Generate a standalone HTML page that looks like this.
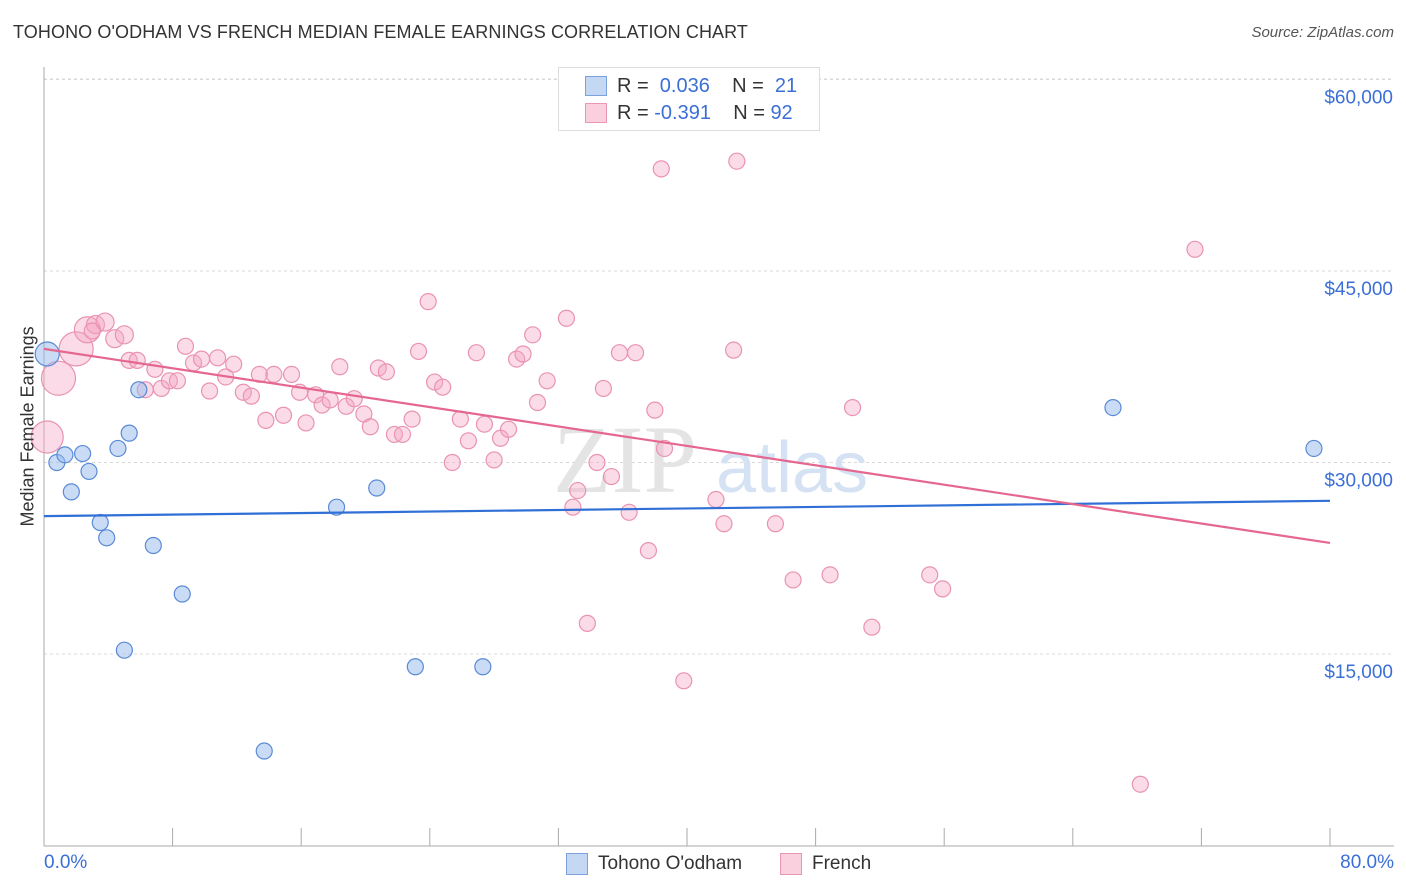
<!DOCTYPE html>
<html><head><meta charset="utf-8">
<style>
html,body{margin:0;padding:0;background:#fff;}
body{width:1406px;height:892px;overflow:hidden;font-family:"Liberation Sans",sans-serif;position:relative;}
.t{position:absolute;white-space:nowrap;}
</style></head>
<body>
<div class="t" style="left:13px;top:22px;font-size:18px;color:#333;letter-spacing:0.1px">TOHONO O'ODHAM VS FRENCH MEDIAN FEMALE EARNINGS CORRELATION CHART</div>
<div class="t" style="right:12px;top:24px;font-size:15px;color:#555;font-style:italic">Source: ZipAtlas.com</div>
<svg id="chart" width="1406" height="892" style="position:absolute;left:0;top:0"></svg>
<script>
const blueX=[0.2,0.8,1.3,2.4,1.7,2.8,3.5,3.9,4.6,5.3,5.9,6.8,8.6,5.0,13.7,18.2,20.7,23.1,27.3,66.5,79.0];
const blueY=[38500,30000,30600,30700,27700,29300,25300,24100,31100,32300,35700,23500,19700,15300,7400,26500,28000,14000,14000,34300,31100];
const blueR=[12,8,8,8,8,8,8,8,8,8,8,8,8,8,8,8,8,8,8,8,8];
const pinkX=[0.2,0.9,2.0,2.7,3.2,3.8,4.4,5.0,5.3,5.8,6.3,6.9,7.3,7.8,8.3,8.8,9.3,9.8,10.3,10.8,11.3,11.8,12.4,12.9,13.4,13.8,14.3,14.9,15.4,15.9,16.3,16.9,17.3,17.8,18.4,18.8,19.3,19.9,20.3,20.8,21.3,21.8,22.3,22.9,23.3,23.9,24.3,24.8,25.4,25.9,26.4,26.9,27.4,28.0,28.4,28.9,29.4,29.8,30.4,30.7,31.3,32.5,32.9,33.2,33.8,34.4,34.8,35.3,35.8,36.4,36.8,37.6,38.0,38.4,38.6,39.8,41.8,42.3,42.9,43.1,45.5,46.6,48.9,50.3,51.5,55.1,55.9,68.2,71.6,3.0];
const pinkY=[32000,36600,38900,40400,40800,41000,39700,40000,38000,38000,35700,37300,35800,36400,36400,39100,37800,38100,35600,38200,36700,37700,35500,35200,36900,33300,36900,33700,36900,35500,33100,35300,34500,34900,37500,34400,35000,33800,32800,37400,37100,32200,32200,33400,38700,42600,36300,35900,30000,33400,31700,38600,33000,30200,31900,32600,38100,38500,40000,34700,36400,41300,26500,27800,17400,30000,35800,28900,38600,26100,38600,23100,34100,53000,31100,12900,27100,25200,38800,53600,25200,20800,21200,34300,17100,21200,20100,4800,46700,40300];
const pinkR=[16,17,17,13,9,9,9,9,8,8,8,8,8,8,8,8,8,8,8,8,8,8,8,8,8,8,8,8,8,8,8,8,8,8,8,8,8,8,8,8,8,8,8,8,8,8,8,8,8,8,8,8,8,8,8,8,8,8,8,8,8,8,8,8,8,8,8,8,8,8,8,8,8,8,8,8,8,8,8,8,8,8,8,8,8,8,8,8,8,8];
const blueLine=[25800,27000];
const pinkLine=[38900,23700];
const yTicks=[15000,30000,45000,60000];
const yTickLabels=["$15,000","$30,000","$45,000","$60,000"];
const xTicks=[0,8,16,24,32,40,48,56,64,72,80];

const X0=44,X1=1330,Y0=845.5,YS=191.5/15000;
const sx=v=>X0+(v/80)*(X1-X0);
const sy=v=>Y0-v*YS;
const svg=document.getElementById('chart');
const NS='http://www.w3.org/2000/svg';
function mk(tag,attrs,parent){const e=document.createElementNS(NS,tag);for(const k in attrs)e.setAttribute(k,attrs[k]);(parent||svg).appendChild(e);return e;}

yTicks.forEach((v,i)=>{
  const g=mk('line',{x1:44,x2:1394,y1:sy(v),y2:sy(v),stroke:'#d8d8d8','stroke-dasharray':'3,3'});
  
  
  const t=mk('text',{x:1393,y:sy(v)+24,'text-anchor':'end','font-size':19,fill:'#3b6fd6','font-family':'Liberation Sans, sans-serif'});
  t.textContent=yTickLabels[i];
  
  
});
const topGrid=mk('line',{x1:44,x2:1394,y1:79,y2:79,stroke:'#d8d8d8','stroke-dasharray':'3,3'});


const ya=mk('line',{x1:44,x2:44,y1:67,y2:846,stroke:'#aaa'});


const xa=mk('line',{x1:44,x2:1394,y1:846,y2:846,stroke:'#aaa'});


xTicks.forEach(v=>{
  const tk=mk('line',{x1:sx(v),x2:sx(v),y1:828,y2:846,stroke:'#aaa'});
  
  
});
const wm=mk('text',{x:553,y:492,'font-size':96,fill:'#e4e4e4','font-family':'Liberation Serif, serif'});
wm.textContent='ZIP';


const wm2=mk('text',{x:716,y:492,'font-size':72,fill:'#d4e2f4','font-family':'Liberation Sans, sans-serif'});
wm2.textContent='atlas';



pinkX.forEach((x,i)=>{
  const c=mk('circle',{cx:sx(x),cy:sy(pinkY[i]),r:pinkR[i],fill:'rgba(244,166,194,0.4)',stroke:'#e993b1','stroke-width':1.2});
  
  
});
blueX.forEach((x,i)=>{
  const c=mk('circle',{cx:sx(x),cy:sy(blueY[i]),r:blueR[i],fill:'rgba(150,185,235,0.5)',stroke:'#5a8ad6','stroke-width':1.2});
  
  
});
const bl=mk('line',{x1:sx(0),x2:sx(80),y1:sy(blueLine[0]),y2:sy(blueLine[1]),stroke:'#2f6fd6','stroke-width':2.2});


const pl=mk('line',{x1:sx(0),x2:sx(80),y1:sy(pinkLine[0]),y2:sy(pinkLine[1]),stroke:'#e5678f','stroke-width':2.2});


</script>
<div class="t" style="left:-42px;top:446px;font-size:18px;color:#333;transform:rotate(-90deg);transform-origin:center;width:140px;text-align:center">Median Female Earnings</div>
<div class="t" style="left:44px;top:852px;font-size:19px;color:#3b6fd6">0.0%</div>
<div class="t" style="right:12px;top:852px;font-size:19px;color:#3b6fd6">80.0%</div>
<div style="position:absolute;left:558px;top:67px;width:260px;height:62px;border:1px solid #ddd;background:#fff;font-size:20px;color:#333">
  <div style="position:absolute;left:26px;top:8px;width:20px;height:18px;background:#c4d8f4;border:1px solid #7aa2de"></div>
  <div class="t" style="left:58px;top:7px">R = <span style="color:#3b6fd6">&nbsp;0.036</span>&nbsp;&nbsp;&nbsp; N = &nbsp;<span style="color:#3b6fd6">21</span></div>
  <div style="position:absolute;left:26px;top:35px;width:20px;height:18px;background:#fbd0de;border:1px solid #eb97b4"></div>
  <div class="t" style="left:58px;top:34px">R = <span style="color:#3b6fd6">-0.391</span>&nbsp;&nbsp;&nbsp; N = <span style="color:#3b6fd6">92</span></div>
</div>
<div style="position:absolute;left:566px;top:852px;font-size:19px;color:#333;height:24px;width:320px">
  <div style="position:absolute;left:0;top:1px;width:20px;height:20px;background:#c4d8f4;border:1px solid #7aa2de"></div>
  <div class="t" style="left:32px;top:1px">Tohono O'odham</div>
  <div style="position:absolute;left:214px;top:1px;width:20px;height:20px;background:#fbd0de;border:1px solid #eb97b4"></div>
  <div class="t" style="left:246px;top:1px">French</div>
</div>
</body></html>
